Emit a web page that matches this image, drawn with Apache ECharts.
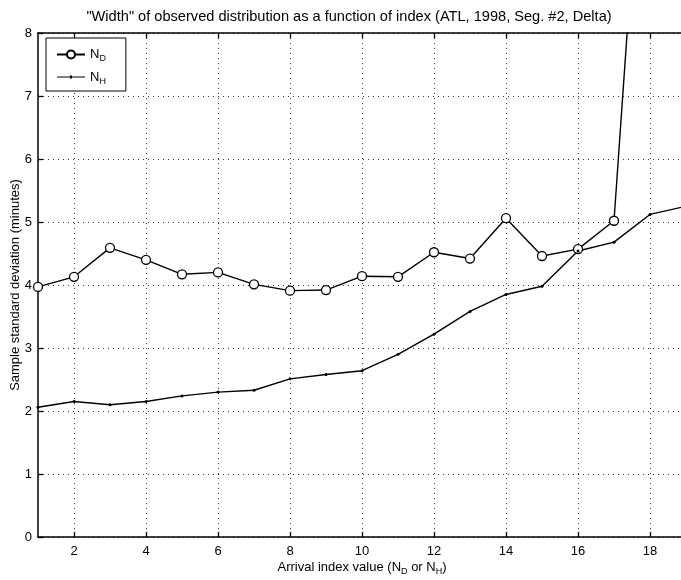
<!DOCTYPE html>
<html>
<head>
<meta charset="utf-8">
<script src="https://cdn.jsdelivr.net/npm/echarts@6/dist/echarts.min.js"></script>
<style>
html,body{margin:0;padding:0;background:#fff;}
#chart{width:681px;height:580px;}
</style>
</head>
<body>
<div id="chart"></div>
<script>
var xIndex = [1,2,3,4,5,6,7,8,9,10,11,12,13,14,15,16,17,18,19];
var nD = [3.97,4.13,4.59,4.40,4.17,4.20,4.01,3.91,3.92,4.14,4.13,4.52,4.42,5.06,4.46,4.57,5.02,13.2];
var nH = [2.06,2.15,2.10,2.15,2.24,2.30,2.33,2.51,2.58,2.64,2.90,3.22,3.58,3.85,3.98,4.54,4.68,5.12,5.25];
var xTicks = [2,4,6,8,10,12,14,16,18];
var yTicks = [0,1,2,3,4,5,6,7,8];
var titleText = '"Width" of observed distribution as a function of index (ATL, 1998, Seg. #2, Delta)';

function pairs(ys){ return ys.map(function(v,i){ return [xIndex[i], v]; }); }

var font = 'Liberation Sans, Arial, Helvetica, sans-serif';
var rich = {
  n: {fontSize: 13, fontFamily: font, color: '#000'},
  s: {fontSize: 9, fontFamily: font, color: '#000', padding:[9,0,0,0]},
  t: {fontSize: 13, fontFamily: font, color: '#000'}
};

var chart = echarts.init(document.getElementById('chart'), null, {renderer:'canvas'});
var dotted = {show:true, lineStyle:{color:'#000', type:[1,4], width:1, opacity:0.8}};
chart.setOption({
  animation:false,
  backgroundColor:'#fff',
  title:{
    text:titleText, left:344, top:4, textAlign:'center',
    textStyle:{fontFamily:font, fontSize:14.6, fontWeight:'normal', color:'#000'}
  },
  legend:{
    orient:'vertical', left:46, top:38,
    borderColor:'#000', borderWidth:1, padding:[10,20,5,10],
    itemWidth:28, itemHeight:10, itemGap:7,
    backgroundColor:'#fff',
    data:[
      {name:'ND'},
      {name:'NH', icon:'path://M0,4.4L28,4.4L28,5.6L0,5.6Z M13,3.5L15,3.5L15,6.5L13,6.5Z'}
    ],
    formatter:function(name){ return '{n|N}{s|' + name.charAt(1) + '}'; },
    textStyle:{rich:rich, color:'#000'}
  },
  grid:{left:38, right:-5, top:33, bottom:43, containLabel:false, outerBoundsMode:'none'},
  xAxis:[{
    type:'value', min:1, max:19, position:'bottom',
    name:'{t|Arrival index value (N}{s|D}{t| or N}{s|H}{t|)}',
    nameLocation:'middle', nameGap:21, nameMoveOverlap:false,
    nameTextStyle:{rich:rich},
    axisLine:{show:true, onZero:false, lineStyle:{color:'#000', width:1.5}},
    axisTick:{show:true, inside:true, length:5, customValues:xTicks, lineStyle:{color:'#000', width:1.3}},
    axisLabel:{show:true, customValues:xTicks, color:'#000', fontFamily:font, fontSize:13, margin:8},
    splitLine:dotted
  },{
    type:'value', min:1, max:19, position:'top',
    axisLine:{show:true, onZero:false, lineStyle:{color:'#000', width:1.5}},
    axisTick:{show:true, inside:true, length:5, customValues:xTicks, lineStyle:{color:'#000', width:1.3}},
    axisLabel:{show:false},
    splitLine:{show:false}
  }],
  yAxis:[{
    type:'value', min:0, max:8, interval:1,
    name:'Sample standard deviation (minutes)',
    nameLocation:'middle', nameGap:16, nameRotate:90, nameMoveOverlap:false,
    nameTextStyle:{fontFamily:font, fontSize:13, color:'#000'},
    axisLine:{show:true, onZero:false, lineStyle:{color:'#000', width:1.5}},
    axisTick:{show:true, inside:true, length:5, lineStyle:{color:'#000', width:1.3}},
    axisLabel:{color:'#000', fontFamily:font, fontSize:13, margin:6},
    splitLine:dotted
  },{
    type:'value', min:0, max:8, interval:1, position:'right',
    axisLine:{show:true, onZero:false, lineStyle:{color:'#000', width:1.5}},
    axisTick:{show:true, inside:true, length:5},
    axisLabel:{show:false}, splitLine:{show:false}
  }],
  series:[{
    name:'ND', type:'line', data:pairs(nD), xAxisIndex:0, yAxisIndex:0,
    symbol:'circle', symbolSize:9, showAllSymbol:true, clip:true,
    lineStyle:{color:'#000', width:1.4},
    itemStyle:{color:'#fff', borderColor:'#000', borderWidth:1.3}
  },{
    name:'NH', type:'line', data:pairs(nH), xAxisIndex:0, yAxisIndex:0,
    symbol:'circle', symbolSize:3, showAllSymbol:true, clip:true,
    lineStyle:{color:'#000', width:1.4},
    itemStyle:{color:'#000', borderColor:'#000', borderWidth:0}
  }]
});
</script>
</body>
</html>
